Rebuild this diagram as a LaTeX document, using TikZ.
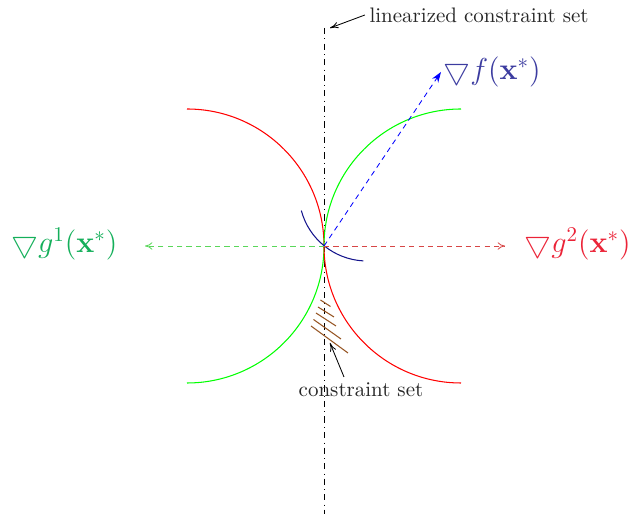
\documentclass[tikz,border=0pt]{standalone}
\usepackage{amsmath,amssymb}
\usetikzlibrary{arrows.meta}
\definecolor{fblue}{RGB}{60,60,160}
\definecolor{gone}{RGB}{20,175,90}
\definecolor{gtwo}{RGB}{235,35,55}
\definecolor{dashgreen}{RGB}{90,215,90}
\definecolor{dashred}{RGB}{215,70,70}
\definecolor{hatchbrown}{RGB}{150,85,35}
\definecolor{arcblue}{RGB}{20,20,140}
\tikzset{
  curve/.style={line width=0.5pt},
  lbl/.style={font=\normalsize, text=black!85, inner sep=1pt},
  mlbl/.style={font=\Large, inner sep=1pt},
  pointer/.style={-{To[length=4pt,width=3pt]}, line width=0.4pt},
  hatch/.style={hatchbrown, line width=0.5pt},
  graddash/.style={line width=0.4pt, dash pattern=on 2.5pt off 2pt}
}
\begin{document}
\begin{tikzpicture}[x=0.4762pt,y=0.4762pt]
\useasboundingbox (0,0) rectangle (631,514);
% key points
\coordinate (O) at (324,268);
\coordinate (vtop) at (324,486);
\coordinate (vbot) at (324,0);
\coordinate (fend) at (441,442);
\coordinate (g1end) at (145,268);
\coordinate (g2end) at (505,268);
% vertical linearized constraint line
\draw[dash dot, line width=0.4pt] (vtop) -- (vbot);
% circles
\draw[curve, red] (187,405) arc[start angle=90, end angle=0, radius=137];
\draw[curve, green] (324,268) arc[start angle=0, end angle=-90, radius=137];
\draw[curve, green] (324,268) arc[start angle=180, end angle=90, radius=137];
\draw[curve, red] (324,268) arc[start angle=180, end angle=270, radius=137];
% level set of f
\draw[curve, arcblue] ([shift={(195:68)}]367,321) arc[start angle=195, end angle=267, radius=68];
% gradient arrows
\draw[blue, graddash, -{Stealth[length=5pt,width=3.5pt]}] (O) -- (fend);
\draw[dashgreen, graddash, -{To[length=3.5pt,width=3.5pt]}] (O) -- (g1end);
\draw[dashred, graddash, -{To[length=3.5pt,width=3.5pt]}] (O) -- (g2end);
% labels
\node[mlbl, text=fblue, anchor=west] (flab) at (441,442) {$\bigtriangledown f(\mathbf{x}^*)$};
\node[mlbl, text=gone, anchor=east] (g1lab) at (120,270) {$\bigtriangledown g^1(\mathbf{x}^*)$};
\node[mlbl, text=gtwo, anchor=west] (g2lab) at (522,270) {$\bigtriangledown g^2(\mathbf{x}^*)$};
% hatch lines (constraint set)
\draw[hatch] (320.5,214) -- (330.5,207.5);
\draw[hatch] (318,207) -- (334,197);
\draw[hatch] (316,201) -- (336,188);
\draw[hatch] (313.5,194.5) -- (341,175);
\draw[hatch] (311,188) -- (348,161);
% text labels with pointers
\node[lbl, anchor=west] (lcs) at (367,499) {linearized constraint set};
\coordinate (lcstip) at (330,486);
\draw[pointer] ([xshift=-1pt]lcs.west) -- (lcstip);
\node[lbl] (cs) at (361,124) {constraint set};
\coordinate (cstip) at (330,171);
\draw[pointer] (344,137) -- (cstip);
\end{tikzpicture}
\end{document}
